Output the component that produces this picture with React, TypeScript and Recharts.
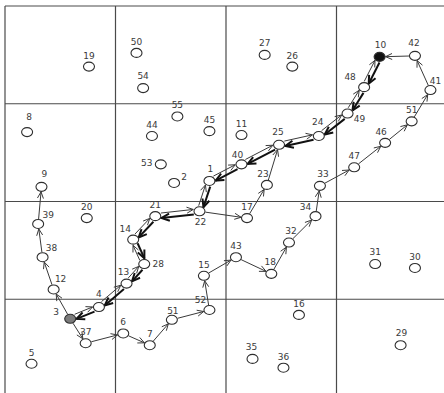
import React from 'react';
import { ScatterChart, Scatter, XAxis, YAxis, ReferenceLine } from 'recharts';

interface Station {
  id: string;
  label: string;
  x: number;
  y: number;
}

// station positions on a 400 x 400 field, y measured downward
const stations: Station[] = [
  { id: '1', label: '1', x: 185, y: 179 },
  { id: '2', label: '2', x: 153, y: 181 },
  { id: '3', label: '3', x: 59, y: 320 },
  { id: '4', label: '4', x: 85, y: 308 },
  { id: '5', label: '5', x: 24, y: 366 },
  { id: '6', label: '6', x: 107, y: 335 },
  { id: '7', label: '7', x: 131, y: 347 },
  { id: '8', label: '8', x: 20, y: 129 },
  { id: '9', label: '9', x: 33, y: 185 },
  { id: '10', label: '10', x: 339, y: 52 },
  { id: '11', label: '11', x: 214, y: 132 },
  { id: '12', label: '12', x: 44, y: 290 },
  { id: '13', label: '13', x: 110, y: 284 },
  { id: '14', label: '14', x: 116, y: 239 },
  { id: '15', label: '15', x: 180, y: 276 },
  { id: '16', label: '16', x: 266, y: 316 },
  { id: '17', label: '17', x: 219, y: 217 },
  { id: '18', label: '18', x: 241, y: 274 },
  { id: '19', label: '19', x: 76, y: 62 },
  { id: '20', label: '20', x: 74, y: 217 },
  { id: '21', label: '21', x: 136, y: 215 },
  { id: '22', label: '22', x: 176, y: 210 },
  { id: '23', label: '23', x: 237, y: 183 },
  { id: '24', label: '24', x: 284, y: 133 },
  { id: '25', label: '25', x: 248, y: 142 },
  { id: '26', label: '26', x: 260, y: 62 },
  { id: '27', label: '27', x: 235, y: 50 },
  { id: '28', label: '28', x: 126, y: 264 },
  { id: '29', label: '29', x: 358, y: 347 },
  { id: '30', label: '30', x: 371, y: 268 },
  { id: '31', label: '31', x: 335, y: 264 },
  { id: '32', label: '32', x: 257, y: 242 },
  { id: '33', label: '33', x: 285, y: 184 },
  { id: '34', label: '34', x: 281, y: 215 },
  { id: '35', label: '35', x: 224, y: 361 },
  { id: '36', label: '36', x: 252, y: 370 },
  { id: '37', label: '37', x: 73, y: 345 },
  { id: '38', label: '38', x: 34, y: 257 },
  { id: '39', label: '39', x: 30, y: 223 },
  { id: '40', label: '40', x: 214, y: 162 },
  { id: '41', label: '41', x: 385, y: 86 },
  { id: '42', label: '42', x: 371, y: 51 },
  { id: '43', label: '43', x: 209, y: 257 },
  { id: '44', label: '44', x: 133, y: 133 },
  { id: '45', label: '45', x: 185, y: 128 },
  { id: '46', label: '46', x: 344, y: 140 },
  { id: '47', label: '47', x: 316, y: 165 },
  { id: '48', label: '48', x: 325, y: 83 },
  { id: '49', label: '49', x: 310, y: 110 },
  { id: '50', label: '50', x: 119, y: 48 },
  { id: '51a', label: '51', x: 368, y: 118 },
  { id: '51b', label: '51', x: 151, y: 321 },
  { id: '52', label: '52', x: 185, y: 311 },
  { id: '53', label: '53', x: 141, y: 162 },
  { id: '54', label: '54', x: 125, y: 84 },
  { id: '55', label: '55', x: 156, y: 113 },
];

// routes, listed in travel order
const outbound = ['3', '4', '13', '28', '14', '21', '22', '1', '40', '25', '24', '49', '48', '10'];
const inbound = ['10', '48', '49', '24', '25', '40', '1', '22', '21', '14', '28', '13', '4', '3'];
const southLoop = ['3', '37', '6', '7', '51b', '52', '15', '43', '18', '32', '34', '33', '47', '46', '51a', '41', '42', '10'];
const westSpur = ['3', '12', '38', '39', '9'];
const midLink = ['22', '17', '23', '25'];

const gridLines = [0, 100, 200, 300];

// label centre relative to the station, in px (default sits above)
const labelNudge: Record<string, [number, number]> = {
  '1': [1, -12], '2': [10, -6], '3': [-14, -7], '4': [0, -13], '8': [2, -15], '9': [3, -13],
  '10': [1, -12], '12': [7, -10], '13': [-3, -12], '14': [-8, -11], '18': [-1, -12],
  '22': [1, 11], '23': [-4, -11], '24': [-1, -14], '25': [-1, -13], '27': [0, -12],
  '28': [14, 0], '29': [1, -12], '31': [0, -12], '32': [2, -12], '33': [3, -12],
  '34': [-10, -9], '35': [-1, -12], '38': [9, -9], '39': [10, -9], '40': [-4, -9],
  '41': [5, -9], '42': [-1, -13], '46': [-4, -11], '48': [-14, -10], '49': [12, 5],
  '51b': [1, -9], '52': [-9, -10], '53': [-14, -1], '54': [0, -12],
};

const stationFill: Record<string, string> = { '10': '#111', '3': '#7b7b7b' };

const RX = 5.5;
const RY = 4.5;

const byId = new Map(stations.map((s) => [s.id, s]));

interface Edge {
  from: Station;
  to: Station;
  bold: boolean;
  paired: boolean;
}

function routeEdges(route: string[], bold: boolean, paired: boolean): Edge[] {
  const out: Edge[] = [];
  for (let i = 0; i < route.length - 1; i++) {
    out.push({ from: byId.get(route[i])!, to: byId.get(route[i + 1])!, bold, paired });
  }
  return out;
}

const edges: Edge[] = [
  ...routeEdges(southLoop, false, false),
  ...routeEdges(westSpur, false, false),
  ...routeEdges(midLink, false, false),
  ...routeEdges(outbound, false, true),
  ...routeEdges(inbound, true, true),
];

// distance from ellipse centre to its edge along unit direction (ux, uy)
function rim(ux: number, uy: number) {
  return 1 / Math.sqrt((ux / RX) ** 2 + (uy / RY) ** 2);
}

function arrowShape(edge: Edge) {
  return (p: any) => {
    const { x1, y1, x2, y2 } = p;
    const dx = x2 - x1;
    const dy = y2 - y1;
    const len = Math.hypot(dx, dy) || 1;
    const ux = dx / len;
    const uy = dy / len;
    const nx = -uy;
    const ny = ux;
    const off = edge.paired ? -2.5 : 0;
    const r = rim(ux, uy) + 0.5;
    const sx = x1 + ux * r + nx * off;
    const sy = y1 + uy * r + ny * off;
    const ex = x2 - ux * r + nx * off;
    const ey = y2 - uy * r + ny * off;
    const headLen = edge.bold ? 8 : 6.5;
    const headW = edge.bold ? 3.6 : 3;
    const bx = ex - ux * headLen;
    const by = ey - uy * headLen;
    const color = edge.bold ? '#111' : '#3a3a3a';
    const width = edge.bold ? 2 : 1;
    return (
      <g>
        <line x1={sx} y1={sy} x2={ex} y2={ey} stroke={color} strokeWidth={width} />
        <polyline
          points={`${bx + nx * headW},${by + ny * headW} ${ex},${ey} ${bx - nx * headW},${by - ny * headW}`}
          fill="none"
          stroke={color}
          strokeWidth={width}
          strokeLinejoin="miter"
        />
      </g>
    );
  };
}

function StationMark(props: any) {
  const { cx, cy } = props;
  const s: Station = props.payload ?? props;
  const [ldx, ldy] = labelNudge[s.id] ?? [0, -11];
  return (
    <g>
      <ellipse cx={cx} cy={cy} rx={RX} ry={RY} fill={stationFill[s.id] ?? '#fff'} stroke="#2e2e2e" strokeWidth={1.1} />
      <text
        x={cx + ldx}
        y={cy + ldy}
        textAnchor="middle"
        dominantBaseline="central"
        fontFamily="'DejaVu Sans', Verdana, sans-serif"
        fontSize={9}
        fill="#3a3a3a"
      >
        {s.label}
      </text>
    </g>
  );
}

export default function App() {
  return (
    <div style={{ position: 'absolute', left: 0, top: 0, width: 444, height: 393, overflow: 'hidden', background: '#fff' }}>
      <ScatterChart width={460} height={410} margin={{ top: 6, left: 5, right: 13, bottom: 13 }}>
        <XAxis type="number" dataKey="x" domain={[0, 400]} hide />
        <YAxis type="number" dataKey="y" domain={[0, 400]} reversed hide />
        {gridLines.map((v) => (
          <ReferenceLine key={`gx${v}`} x={v} stroke="#4a4a4a" strokeWidth={1.2} />
        ))}
        {gridLines.map((v) => (
          <ReferenceLine key={`gy${v}`} y={v} stroke="#4a4a4a" strokeWidth={1.2} />
        ))}
        {edges.map((e, i) => (
          <ReferenceLine
            key={`e${i}`}
            segment={[
              { x: e.from.x, y: e.from.y },
              { x: e.to.x, y: e.to.y },
            ]}
            shape={arrowShape(e)}
          />
        ))}
        <Scatter data={stations} shape={StationMark} isAnimationActive={false} />
      </ScatterChart>
    </div>
  );
}
